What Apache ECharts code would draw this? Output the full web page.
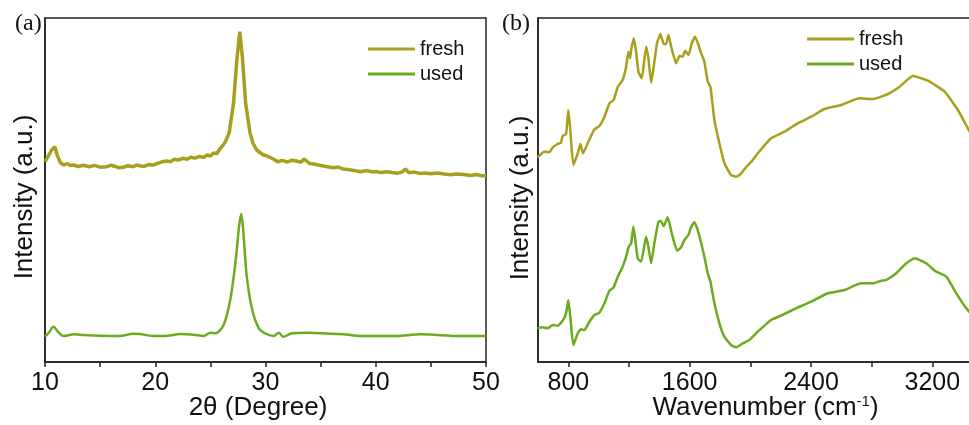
<!DOCTYPE html>
<html>
<head>
<meta charset="utf-8">
<script src="https://cdn.jsdelivr.net/npm/echarts@6/dist/echarts.min.js"></script>
<style>
html,body{margin:0;padding:0;background:#fff;}
#c{width:969px;height:425px;}
</style>
</head>
<body>
<div id="c"></div>
<script>
// ---------- XRD (panel a) ----------
var xrdFreshX = [10.0,10.3,10.6,10.9,11.1,11.4,11.7,12.0,12.3,12.6,13.0,13.5,14.0,14.5,15.0,15.6,16.0,16.3,16.7,17.1,17.5,18.0,18.3,18.6,19.0,19.4,19.8,20.2,20.6,21.0,21.4,21.7,22.1,22.5,22.9,23.2,23.6,24.0,24.4,24.7,25.0,25.3,25.6,25.9,26.3,26.7,27.1,27.4,27.67,27.9,28.2,28.6,28.9,29.2,29.5,29.8,30.1,30.45,30.8,31.1,31.5,32.0,32.4,32.8,33.2,33.5,34.0,34.5,35.0,35.6,36.2,36.6,37.0,37.5,38.0,38.6,39.2,39.6,40.0,40.5,41.0,41.5,42.0,42.4,42.7,43.0,43.5,44.0,44.5,45.0,45.6,46.2,46.8,47.3,48.0,48.6,49.2,49.6,50.0];
var xrdFreshY = [200.3,206,212,215.3,207,199.3,197,198.5,196.5,197,195.5,196.8,195.3,196.6,194.8,195.3,196.8,195.8,194.2,194.7,196.3,195.2,197,196.3,195.6,197.5,196.8,198.7,200.2,201,200.3,202.7,202,203.7,202.8,204.7,203.9,205.5,204.6,207,206,209,208.5,213.7,219,228.7,258.7,302,330.3,305.3,258.7,228.7,218,212,209.5,207,206.2,204.5,202.5,200.3,201.6,200,201.8,201,199.7,203,198.5,197.8,196.4,195.3,194.2,195,193,192.4,191.6,190.3,191.4,190.2,190.5,189.4,190.3,189.5,188.8,190.2,193,189.3,189.9,188.6,189,188.2,189.1,188,187.2,188.1,187.5,186.6,187.4,186.2,186.3];
var xrdUsedX = [10.0,10.4,10.76,11.2,11.7,12.6,13.5,15.0,16.8,18.0,18.6,19.8,21.1,22.3,23.5,24.4,25.0,25.45,26.2,26.8,27.3,27.6,27.8,28.0,28.3,28.8,29.4,30.0,30.75,31.2,31.6,32.4,33.8,37.1,38.6,41.7,44.1,47.7,50.0];
var xrdUsedY = [25.3,30,35.3,30,26,27.7,27,26.3,26,28.3,28,26,26.3,28,27.3,26,29.3,28.7,37,62,102,135.3,148,128.7,85.3,52,33.7,28.5,26,29.3,25.3,28.7,29.3,27.7,26,26,27.7,26,26];
var xrdTicks = [10,15,20,25,30,35,40,45,50];
var xrdLabels = [10,20,30,40,50];

// ---------- FTIR (panel b) ----------
var irFreshX = [597,642,675,696,729,752,762,785,800,813,833,862,879,897,928,972,1005,1038,1071,1099,1126,1158,1181,1196,1207,1214,1231,1247,1262,1284,1313,1328,1346,1363,1385,1407,1429,1445,1460,1478,1511,1533,1554,1570,1592,1614,1636,1658,1676,1697,1719,1737,1763,1796,1829,1873,1906,1940,1972,2016,2049,2137,2225,2313,2401,2489,2599,2720,2808,2907,2984,3072,3171,3281,3369,3440,3480];
var irFreshY = [204.7,210.3,209.7,214.3,218,219.3,226,228,252,232,197,208.7,218,208.7,218.7,232.7,236,245.3,258.7,262,275.3,282,295.3,310.3,303.7,312,323.7,310.3,290.3,283.7,315.3,303.7,279.3,295.3,318.7,328,318,318,327,315.3,298.7,306,305.3,311.3,307,318.7,325.3,317,308.7,300.3,280.3,275.3,242,218.7,198.7,187,185.3,188.7,194.7,202,208.7,223.7,230.3,238.7,245.3,253,257,263.7,263,268,275.3,286,281.3,270.3,252,232,222];
var irUsedX = [597,630,663,696,729,762,785,800,813,833,862,884,906,939,972,1005,1038,1071,1099,1126,1158,1181,1198,1214,1229,1242,1257,1280,1313,1328,1346,1367,1394,1407,1429,1455,1482,1517,1544,1565,1592,1610,1631,1653,1676,1697,1719,1737,1763,1796,1829,1873,1906,1950,1994,2049,2137,2225,2335,2401,2511,2621,2731,2808,2863,2896,2962,3028,3083,3160,3215,3292,3358,3424,3480];
var irUsedY = [33.7,34.7,33.7,37,36.3,41.3,48.7,62,45.3,17,28.7,32.7,32,40.3,47,49.3,58.7,71.3,74.7,85.3,95.3,105.3,115.3,118.7,135.3,122,103.7,100.3,125.3,115.3,98.7,118.7,140.3,141.3,136,144.7,128.7,111.3,114.7,122,127,135.3,139.7,132,118.7,105.3,88.7,80.3,58.7,38.7,25.3,17,14.7,18.7,22,30.3,42,48,56,60.3,68.7,72,78.7,78.7,81.3,82,88.7,98.7,103.7,98.7,91.3,85.3,68.7,53.7,44];
var irTicks = [800,1200,1600,2000,2400,2800,3200];
var irLabels = [800,1600,2400,3200];

var seriesNames = ['fresh','used'];
var colFresh = '#A89F1C';
var colUsed = '#6CAB1E';

function zip(xs, ys){ return xs.map(function(x,i){ return [x, ys[i]]; }); }

var FONT = 'Liberation Sans, Arial, sans-serif';
var SERIF = 'Liberation Serif, Times New Roman, serif';
var axisColor = '#222';

var chart = echarts.init(document.getElementById('c'), null, {renderer:'canvas'});
chart.setOption({
  animation:false,
  backgroundColor:'#fff',
  textStyle:{fontFamily:FONT},
  grid:[
    {left:45, top:18, width:441, height:344, show:true, borderColor:axisColor, borderWidth:1.5, containLabel:false, outerBoundsMode:'none'},
    {left:538, top:18, right:-24, height:344, show:true, borderColor:axisColor, borderWidth:1.5, containLabel:false, outerBoundsMode:'none'}
  ],
  legend:[
    {data:seriesNames, orient:'vertical', left:368, top:39, padding:0, itemWidth:47, itemHeight:3, itemGap:5, icon:'rect',
     textStyle:{fontSize:20, color:'#111', fontFamily:FONT}},
    {data:seriesNames, orient:'vertical', left:807, top:29, padding:0, itemWidth:47, itemHeight:3, itemGap:5, icon:'rect',
     textStyle:{fontSize:20, color:'#111', fontFamily:FONT}}
  ],
  xAxis:[
    {gridIndex:0, type:'value', min:10, max:50, interval:5,
     name:'2θ (Degree)', nameLocation:'middle', nameGap:33, nameMoveOverlap:false,
     nameTextStyle:{fontSize:26, color:'#111', fontFamily:FONT, padding:[0,15,0,0]},
     axisLine:{show:true, lineStyle:{color:axisColor, width:1.5}},
     axisTick:{show:true, length:5, lineStyle:{color:axisColor, width:1.5}},
     axisLabel:{fontSize:25, color:'#111', margin:9, fontFamily:FONT,
       formatter:function(v){ return xrdLabels.indexOf(v) >= 0 ? String(v) : ''; }},
     splitLine:{show:false}},
    {gridIndex:1, type:'value', min:600, max:3600,
     name:'{a|Wavenumber (cm}{s|-1}{a|)}', nameLocation:'middle', nameGap:32, nameMoveOverlap:false,
     nameTextStyle:{fontSize:26, color:'#111', fontFamily:FONT,
       rich:{a:{fontSize:26, color:'#111', fontFamily:FONT}, s:{fontSize:15, color:'#111', fontFamily:FONT, verticalAlign:'top', padding:[0,0,12,0]}}},
     axisLine:{show:true, lineStyle:{color:axisColor, width:1.5}},
     axisTick:{show:true, length:5, customValues:irTicks, lineStyle:{color:axisColor, width:1.5}},
     axisLabel:{fontSize:25, color:'#111', margin:9, fontFamily:FONT, customValues:irLabels,
       formatter:function(v){ return String(v); }},
     splitLine:{show:false}}
  ],
  yAxis:[
    {gridIndex:0, type:'value', min:0, max:344,
     axisLine:{show:true, lineStyle:{color:axisColor, width:1.5}},
     axisTick:{show:false}, axisLabel:{show:false}, splitLine:{show:false}},
    {gridIndex:1, type:'value', min:0, max:344,
     axisLine:{show:true, lineStyle:{color:axisColor, width:1.5}},
     axisTick:{show:false}, axisLabel:{show:false}, splitLine:{show:false}}
  ],
  graphic:[
    {type:'text', left:15, top:12, style:{text:'(a)', fontSize:24, fontFamily:SERIF, fill:'#111'}},
    {type:'text', left:502, top:12, style:{text:'(b)', fontSize:24, fontFamily:SERIF, fill:'#111'}},
    {type:'text', x:25, y:197, rotation:Math.PI/2,
     style:{text:'Intensity (a.u.)', fontSize:26, fontFamily:FONT, fill:'#111', align:'center', verticalAlign:'middle'}},
    {type:'text', x:521, y:198, rotation:Math.PI/2,
     style:{text:'Intensity (a.u.)', fontSize:26, fontFamily:FONT, fill:'#111', align:'center', verticalAlign:'middle'}}
  ],
  series:[
    {name:'fresh', type:'line', xAxisIndex:0, yAxisIndex:0, data:zip(xrdFreshX, xrdFreshY), showSymbol:false, symbol:'none',
     lineStyle:{color:colFresh, width:3.5}, itemStyle:{color:colFresh}},
    {name:'used', type:'line', xAxisIndex:0, yAxisIndex:0, data:zip(xrdUsedX, xrdUsedY), showSymbol:false, symbol:'none', smooth:0.3,
     lineStyle:{color:colUsed, width:2.5}, itemStyle:{color:colUsed}},
    {name:'fresh', type:'line', xAxisIndex:1, yAxisIndex:1, data:zip(irFreshX, irFreshY), showSymbol:false, symbol:'none', smooth:0.15,
     lineStyle:{color:colFresh, width:2.5}, itemStyle:{color:colFresh}},
    {name:'used', type:'line', xAxisIndex:1, yAxisIndex:1, data:zip(irUsedX, irUsedY), showSymbol:false, symbol:'none', smooth:0.15,
     lineStyle:{color:colUsed, width:2.5}, itemStyle:{color:colUsed}}
  ]
});
</script>
</body>
</html>
